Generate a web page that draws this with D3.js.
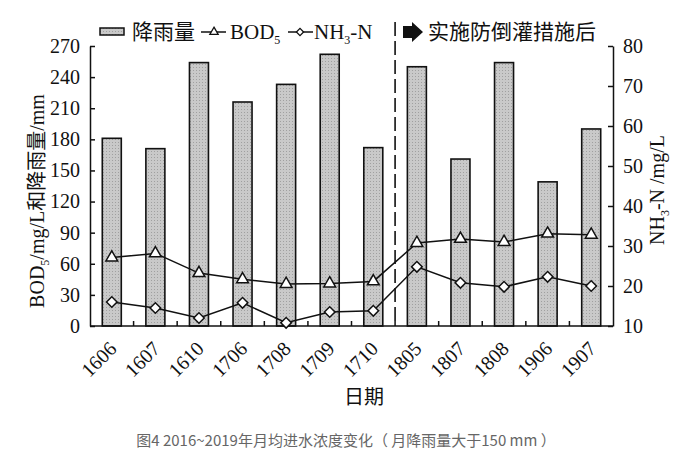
<!DOCTYPE html>
<html>
<head>
<meta charset="utf-8">
<script src="https://cdn.jsdelivr.net/npm/d3@7"></script>
<style>
  html, body { margin: 0; padding: 0; background: #fff; }
  svg { display: block; }
</style>
</head>
<body>
<svg id="chart" width="678" height="461"></svg>
<script>
const categories = ["1606","1607","1610","1706","1708","1709","1710","1805","1807","1808","1906","1907"];
const rainfall = [181, 171, 254, 216, 233, 262, 172, 250, 161, 254, 139, 190];
const bod5 = [66, 70, 51, 45, 40.5, 41, 43, 80, 84, 81, 89, 88];
const nh3n = [16.0, 14.5, 12.0, 15.8, 10.8, 13.5, 13.8, 24.8, 20.8, 19.8, 22.3, 20.0];
const leftTicks = [0, 30, 60, 90, 120, 150, 180, 210, 240, 270];
const rightTicks = [10, 20, 30, 40, 50, 60, 70, 80];

const serif = "'Liberation Serif','Times New Roman',serif";
const cjk = "'Noto Sans CJK SC','Noto Sans',sans-serif";

const svg = d3.select("#chart");
const L = 90, R = 613, T = 46, B = 326;

const defs = svg.append("defs");
const pat = defs.append("pattern").attr("id", "dots").attr("patternUnits", "userSpaceOnUse")
  .attr("width", 3).attr("height", 3);
pat.append("rect").attr("width", 3).attr("height", 3).attr("fill", "#c9c9c9");
pat.append("rect").attr("x", 1).attr("y", 1).attr("width", 1).attr("height", 1).attr("fill", "#a0a0a0");

const xb = d3.scaleBand().domain(categories).range([L, R]);
const yL = d3.scaleLinear().domain([0, 270]).range([B, T]);
const yR = d3.scaleLinear().domain([10, 80]).range([B, T]);

// bars
svg.append("g").selectAll("rect").data(categories).join("rect")
  .attr("x", (d) => xb(d) + xb.bandwidth() / 2 - 9.5)
  .attr("width", 19)
  .attr("y", (d, i) => yL(rainfall[i]))
  .attr("height", (d, i) => B - yL(rainfall[i]))
  .attr("fill", "url(#dots)")
  .attr("stroke", "#111").attr("stroke-width", 1.6);

// axes
const axL = d3.axisLeft(yL).tickValues(leftTicks).tickSizeInner(-5).tickSizeOuter(0).tickPadding(10);
const gL = svg.append("g").attr("transform", `translate(${L},0)`).call(axL);
const axR = d3.axisRight(yR).tickValues(rightTicks).tickSizeInner(-5).tickSizeOuter(0).tickPadding(10);
const gR = svg.append("g").attr("transform", `translate(${R},0)`).call(axR);
[gL, gR].forEach(g => {
  g.select(".domain").attr("stroke", "#111").attr("stroke-width", 1.5);
  g.selectAll(".tick line").attr("stroke", "#111").attr("stroke-width", 1.5);
  g.selectAll(".tick text").attr("font-family", serif).attr("font-size", 20).attr("fill", "#111");
});

// x axis line and boundary ticks
svg.append("line").attr("x1", L).attr("x2", R).attr("y1", B).attr("y2", B)
  .attr("stroke", "#111").attr("stroke-width", 1.5);
svg.append("g").selectAll("line").data(categories.slice(1)).join("line")
  .attr("x1", d => xb(d)).attr("x2", d => xb(d))
  .attr("y1", B).attr("y2", B - 5)
  .attr("stroke", "#111").attr("stroke-width", 1.5);

// x labels
svg.append("g").selectAll("text").data(categories).join("text")
  .attr("transform", d => `translate(${xb(d) + xb.bandwidth() / 2 + 6},350) rotate(-45)`)
  .attr("text-anchor", "end")
  .attr("font-family", serif).attr("font-size", 20).attr("fill", "#111")
  .text(d => d);

// dashed separator
const sepX = xb("1805");
svg.append("line").attr("x1", sepX).attr("x2", sepX).attr("y1", 22).attr("y2", B)
  .attr("stroke", "#111").attr("stroke-width", 1.6).attr("stroke-dasharray", "14,5");

// lines
const cx = d => xb(d) + xb.bandwidth() / 2;
const lineB = d3.line().x((d, i) => cx(categories[i])).y(d => yL(d));
const lineN = d3.line().x((d, i) => cx(categories[i])).y(d => yR(d));
svg.append("path").attr("d", lineB(bod5)).attr("fill", "none").attr("stroke", "#111").attr("stroke-width", 1.5);
svg.append("path").attr("d", lineN(nh3n)).attr("fill", "none").attr("stroke", "#111").attr("stroke-width", 1.5);

const tri = d3.symbol().type(d3.symbolTriangle).size(60);
const dia = d3.symbol().type(d3.symbolSquare).size(56);
svg.append("g").selectAll("path").data(bod5).join("path")
  .attr("d", tri)
  .attr("transform", (d, i) => `translate(${cx(categories[i])},${yL(d)})`)
  .attr("fill", "#fff").attr("stroke", "#111").attr("stroke-width", 1.5);
svg.append("g").selectAll("path").data(nh3n).join("path")
  .attr("d", dia)
  .attr("transform", (d, i) => `translate(${cx(categories[i])},${yR(d)}) rotate(45)`)
  .attr("fill", "#fff").attr("stroke", "#111").attr("stroke-width", 1.5);

// axis titles
svg.append("text")
  .attr("transform", "translate(44,201) rotate(-90)")
  .attr("text-anchor", "middle")
  .attr("font-family", serif).attr("font-size", 20).attr("fill", "#111")
  .call(t => {
    t.append("tspan").text("BOD");
    t.append("tspan").attr("font-size", 12).attr("dy", 5).text("5");
    t.append("tspan").attr("dy", -5).text("/mg/L");
    t.append("tspan").attr("font-family", cjk).text("和降雨量");
    t.append("tspan").text("/mm");
  });

svg.append("text")
  .attr("transform", "translate(664,190) rotate(-90)")
  .attr("text-anchor", "middle")
  .attr("font-family", serif).attr("font-size", 20).attr("fill", "#111")
  .call(t => {
    t.append("tspan").text("NH");
    t.append("tspan").attr("font-size", 12).attr("dy", 5).text("3");
    t.append("tspan").attr("dy", -5).text("-N /mg/L");
  });

svg.append("text").attr("x", 364).attr("y", 404).attr("text-anchor", "middle")
  .attr("font-family", cjk).attr("font-size", 20).attr("fill", "#111").text("日期");

// legend
const lg = svg.append("g");
lg.append("rect").attr("x", 100).attr("y", 28).attr("width", 24).attr("height", 7)
  .attr("fill", "url(#dots)").attr("stroke", "#111").attr("stroke-width", 1.5);
lg.append("text").attr("x", 132).attr("y", 39).attr("font-family", cjk).attr("font-size", 21)
  .attr("fill", "#111").text("降雨量");
lg.append("line").attr("x1", 201).attr("x2", 226).attr("y1", 32).attr("y2", 32).attr("stroke", "#111").attr("stroke-width", 1.5);
lg.append("path").attr("d", d3.symbol().type(d3.symbolTriangle).size(30))
  .attr("transform", "translate(214,32)").attr("fill", "#fff").attr("stroke", "#111").attr("stroke-width", 1.3);
lg.append("text").attr("x", 230).attr("y", 39).attr("font-family", serif).attr("font-size", 21).attr("fill", "#111")
  .call(t => {
    t.append("tspan").text("BOD");
    t.append("tspan").attr("font-size", 12).attr("dy", 5).text("5");
  });
lg.append("line").attr("x1", 288).attr("x2", 313).attr("y1", 32).attr("y2", 32).attr("stroke", "#111").attr("stroke-width", 1.5);
lg.append("path").attr("d", d3.symbol().type(d3.symbolSquare).size(26))
  .attr("transform", "translate(300,32) rotate(45)").attr("fill", "#fff").attr("stroke", "#111").attr("stroke-width", 1.3);
lg.append("text").attr("x", 314).attr("y", 39).attr("font-family", serif).attr("font-size", 21).attr("fill", "#111")
  .call(t => {
    t.append("tspan").text("NH");
    t.append("tspan").attr("font-size", 12).attr("dy", 5).text("3");
    t.append("tspan").attr("dy", -5).text("-N");
  });

// arrow annotation
lg.append("path").attr("d", "M403,26 L412,26 L412,22 L423,32 L412,42 L412,38 L403,38 Z").attr("fill", "#111");
lg.append("text").attr("x", 428).attr("y", 39).attr("font-family", cjk).attr("font-size", 21)
  .attr("fill", "#111").text("实施防倒灌措施后");

// caption
svg.append("text").attr("x", 346).attr("y", 446).attr("text-anchor", "middle")
  .attr("font-family", cjk).attr("font-size", 15).attr("fill", "#666")
  .text("图4 2016~2019年月均进水浓度变化（ 月降雨量大于150 mm ）");
</script>
</body>
</html>
